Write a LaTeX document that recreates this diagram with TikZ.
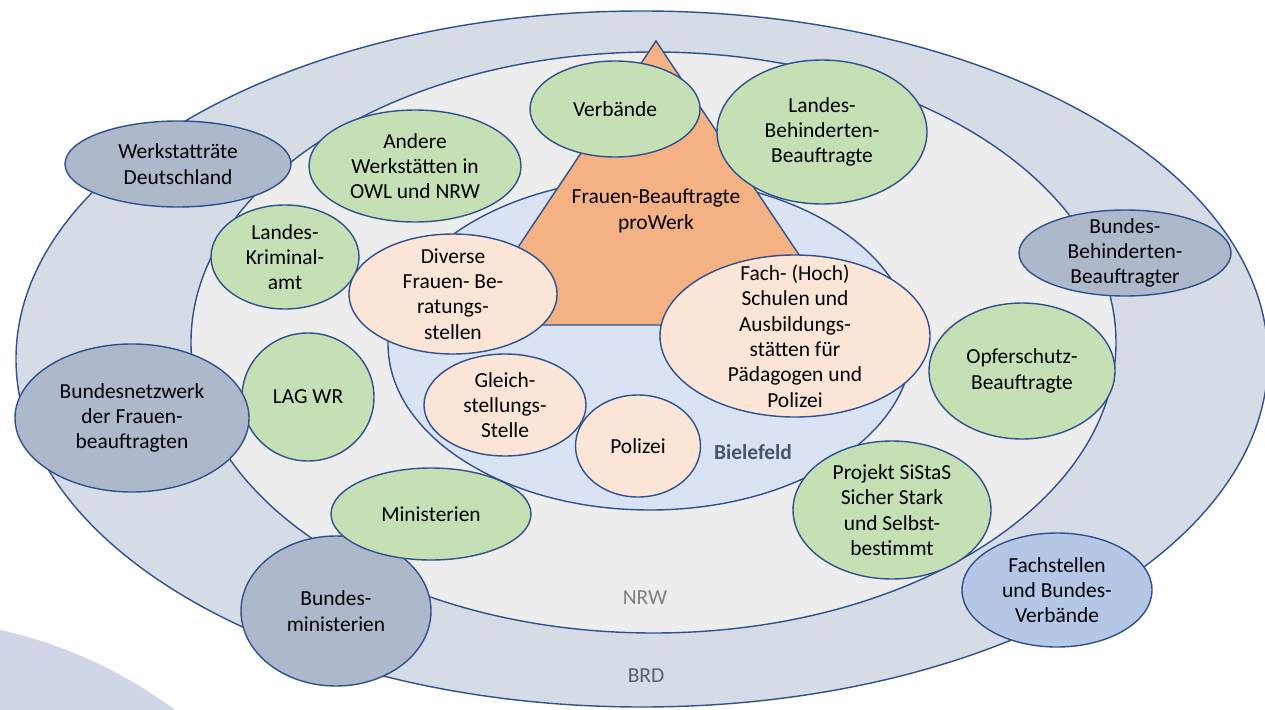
\documentclass[tikz,border=0pt]{standalone}
\usepackage{fontspec}
\setmainfont{Carlito}
\usetikzlibrary{shapes.geometric}
\definecolor{edge}{HTML}{2F528F}
\definecolor{brdfill}{HTML}{D6DCE5}
\definecolor{nrwfill}{HTML}{EDEDED}
\definecolor{bifill}{HTML}{DAE3F3}
\definecolor{trifill}{HTML}{F4B183}
\definecolor{peach}{HTML}{FBE5D6}
\definecolor{greenf}{HTML}{C5E0B4}
\definecolor{greyblue}{HTML}{ADB9CA}
\definecolor{lightblue}{HTML}{B4C7E7}
\definecolor{blob}{HTML}{CFD6E7}
\definecolor{bielefeldtext}{HTML}{44546A}
\definecolor{nrwtext}{HTML}{7F7F7F}
\definecolor{brdtext}{HTML}{595F6B}
\begin{document}
\begin{tikzpicture}[x=0.02cm,y=-0.02cm,
  font=\fontsize{12.2}{14.4}\selectfont,
  oval/.style={ellipse, draw=edge, line width=0.8pt, inner sep=0pt},
  sz/.style 2 args={minimum width=#1*0.02cm, minimum height=#2*0.02cm},
  gr/.style={oval, fill=greenf},
  pe/.style={oval, fill=peach},
  gb/.style={oval, fill=greyblue},
  lb/.style={oval, fill=lightblue},
  txt/.style={align=center, inner sep=0pt, text=black},
  ring/.style={draw=edge, line width=0.8pt}]
\useasboundingbox (0,0) rectangle (1265,710);
\fill[white] (0,0) rectangle (1265,710);
\clip (0,0) rectangle (1265,710);
% background blob
\fill[blob] (-100,1080) ellipse [x radius=461, y radius=461];
% regions
\filldraw[ring, fill=brdfill] (642,359) ellipse [x radius=626, y radius=348];
\filldraw[ring, fill=nrwfill] (653.5,342.5) ellipse [x radius=462.5, y radius=290.5];
\filldraw[ring, fill=bifill] (650,344) ellipse [x radius=262, y radius=166];
% triangle
\filldraw[ring, fill=trifill] (656,41) -- (846,325) -- (466,325) -- cycle;
\node[txt] (fb) at (656,211) {Frauen-Beauftragte\\proWerk};
% region labels
\node[text=bielefeldtext, font=\fontsize{12.2}{14.4}\selectfont\bfseries] (bi) at (753,452) {Bielefeld};
\node[text=nrwtext] (nrw) at (645,598) {NRW};
\node[text=brdtext] (brd) at (646,676) {BRD};
% ovals
\node[gb, sz={226}{86}] (werk) at (178,164) {};
\node[txt] (werk-t) at (werk) {Werkstatträte\\Deutschland};
\node[gr, sz={212}{112}] (andere) at (415,166) {};
\node[txt] (andere-t) at (andere) {Andere\\Werkstätten in\\OWL und NRW};
\node[gr, sz={170}{96}] (verb) at (615,109) {};
\node[txt] (verb-t) at (verb) {Verbände};
\node[gr, sz={210}{144}] (lbb) at (822,132) {};
\node[txt] (lbb-t) at (lbb) {Landes-\\Behinderten-\\Beauftragte};
\node[gb, sz={212}{86}] (bbb) at (1125,253) {};
\node[txt] (bbb-t) at (bbb) {Bundes-\\Behinderten-\\Beauftragter};
\node[gr, sz={148}{104}] (lka) at (285,257) {};
\node[txt] (lka-t) at (lka) {Landes-\\Kriminal-\\amt};
\node[pe, sz={208}{120}] (div) at (453,294) {};
\node[txt] (div-t) at (div) {Diverse\\Frauen- Be-\\ratungs-\\stellen};
\node[pe, sz={270}{162}] (fach) at (795,336) {};
\node[txt] (fach-t) at (fach) {Fach- (Hoch)\\Schulen und\\Ausbildungs-\\stätten für\\Pädagogen und\\Polizei};
\node[gr, sz={186}{136}] (opfer) at (1022,371) {};
\node[txt] (opfer-t) at (opfer) {Opferschutz-\\Beauftragte};
\node[gr, sz={132}{128}] (lag) at (308,397) {};
\node[txt] (lag-t) at (lag) {LAG WR};
\node[gb, sz={234}{148}] (bnw) at (132,418) {};
\node[txt] (bnw-t) at (bnw) {Bundesnetzwerk\\der Frauen-\\beauftragten};
\node[pe, sz={162}{102}] (gleich) at (505,405) {};
\node[txt] (gleich-t) at (gleich) {Gleich-\\stellungs-\\Stelle};
\node[pe, sz={125}{102}] (pol) at (638,446) {};
\node[txt] (pol-t) at (pol) {Polizei};
\node[gb, sz={190}{150}] (bmin) at (336,611) {};
\node[txt] (bmin-t) at (bmin) {Bundes-\\ministerien};
\node[gr, sz={200}{92}] (min) at (431,514) {};
\node[txt] (min-t) at (min) {Ministerien};
\node[gr, sz={198}{138}] (sistas) at (892,510) {};
\node[txt] (sistas-t) at (sistas) {Projekt SiStaS\\Sicher Stark\\und Selbst-\\bestimmt};
\node[lb, sz={190}{114}] (fachst) at (1057,590) {};
\node[txt] (fachst-t) at (fachst) {Fachstellen\\und Bundes-\\Verbände};
\end{tikzpicture}
\end{document}
